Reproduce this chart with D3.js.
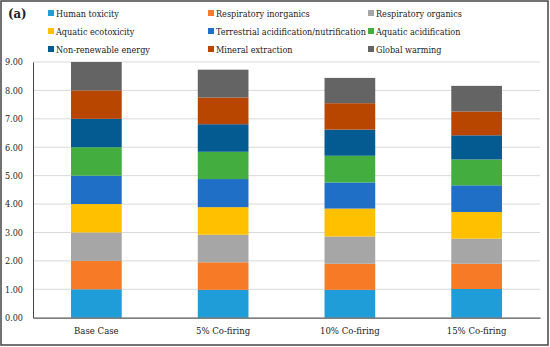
<!DOCTYPE html>
<html>
<head>
<meta charset="utf-8">
<script src="https://cdn.jsdelivr.net/npm/d3@7"></script>
<style>
  body { margin: 0; background: #fff; }
  svg text { fill: #222; }
</style>
</head>
<body>
<div id="chart"></div>
<script>
// Chart data
const scenarios = ["Base Case", "5% Co-firing", "10% Co-firing", "15% Co-firing"];
const categories = [
  "Human toxicity", "Respiratory inorganics", "Respiratory organics",
  "Aquatic ecotoxicity", "Terrestrial acidification/nutrification", "Aquatic acidification",
  "Non-renewable energy", "Mineral extraction", "Global warming"
];
// values per category, in scenario order
const humanToxicity = [1.00, 0.98, 0.98, 1.01];
const respInorganics = [1.00, 0.97, 0.92, 0.89];
const respOrganics = [1.00, 0.97, 0.96, 0.88];
const aquaticEcotox = [1.00, 0.97, 0.98, 0.94];
const terrestrialAcid = [1.00, 0.99, 0.92, 0.94];
const aquaticAcid = [1.00, 0.96, 0.94, 0.91];
const nonRenewable = [1.00, 0.97, 0.92, 0.85];
const mineralExtraction = [1.00, 0.94, 0.93, 0.84];
const globalWarming = [1.00, 0.98, 0.89, 0.90];
const seriesValues = [humanToxicity, respInorganics, respOrganics, aquaticEcotox,
  terrestrialAcid, aquaticAcid, nonRenewable, mineralExtraction, globalWarming];
const yTicks = [0, 1, 2, 3, 4, 5, 6, 7, 8, 9];

const colors = ["#1f9dd9", "#f77b26", "#a6a6a6", "#ffc000", "#1f6fc6",
  "#43ad40", "#045b91", "#b84600", "#646464"];

const fontFam = "DejaVu Serif Condensed, DejaVu Serif";

const svgWidth = 550;
const svgHeight = 347;
const margin = { top: 62, right: 10, bottom: 29, left: 33 };
const chartWidth = 540 - margin.left;
const chartHeight = 317.7 - margin.top;

const svg = d3.select("#chart")
  .append("svg")
  .attr("width", svgWidth)
  .attr("height", svgHeight);

// outer frame
svg.append("rect")
  .attr("x", 1).attr("y", 1)
  .attr("width", 547).attr("height", 344)
  .attr("fill", "none")
  .attr("stroke", "#444")
  .attr("stroke-width", 1.5);

const chartG = svg.append("g")
  .attr("transform", `translate(${margin.left}, ${margin.top})`);

const x = d3.scaleBand()
  .domain(scenarios)
  .range([0, chartWidth])
  .paddingInner(0.6)
  .paddingOuter(0.3);

const y = d3.scaleLinear()
  .domain([0, 9])
  .range([chartHeight, 0]);

// gridlines
chartG.append("g")
  .selectAll("line")
  .data(yTicks.slice(1))
  .enter()
  .append("line")
  .attr("x1", 0).attr("x2", chartWidth)
  .attr("y1", d => y(d)).attr("y2", d => y(d))
  .attr("stroke", "#d9d9d9")
  .attr("stroke-width", 1);

// stacked data
const rows = scenarios.map((s, i) => {
  const row = { scenario: s };
  categories.forEach((c, j) => { row[c] = seriesValues[j][i]; });
  return row;
});
const stacked = d3.stack().keys(categories)(rows);

chartG.append("g")
  .selectAll("g")
  .data(stacked)
  .enter()
  .append("g")
  .attr("fill", (d, i) => colors[i])
  .selectAll("rect")
  .data(d => d)
  .enter()
  .append("rect")
  .attr("x", d => x(d.data.scenario))
  .attr("width", x.bandwidth())
  .attr("y", d => y(d[1]))
  .attr("height", d => y(d[0]) - y(d[1]));

// axes
const yAxis = d3.axisLeft(y).tickValues(yTicks).tickFormat(d3.format(".2f")).tickSize(0).tickPadding(4);
const yAxisG = chartG.append("g").call(yAxis);
yAxisG.select(".domain").attr("stroke", "#444");
yAxisG.selectAll("text")
  .attr("text-anchor", "start")
  .attr("x", 5 - margin.left)
  .attr("font-family", fontFam)
  .attr("font-size", 9)
  .attr("fill", "#222");

const xAxis = d3.axisBottom(x).tickSize(0).tickPadding(10);
const xAxisG = chartG.append("g")
  .attr("transform", `translate(0, ${chartHeight})`)
  .call(xAxis);
xAxisG.select(".domain").attr("stroke", "#555").attr("stroke-width", 1.2);
xAxisG.selectAll("text")
  .attr("font-family", fontFam)
  .attr("font-size", 9.5)
  .attr("fill", "#222");

// panel label
svg.append("text")
  .attr("x", 8).attr("y", 18)
  .attr("font-family", fontFam)
  .attr("font-size", 13)
  .attr("font-weight", "bold")
  .text("(a)");

// legend, 3 columns
const legendX = [48, 208, 368];
const legendY = [13, 31, 49];
const legend = svg.append("g")
  .selectAll("g")
  .data(categories)
  .enter()
  .append("g")
  .attr("transform", (d, i) => `translate(${legendX[i % 3]}, ${legendY[Math.floor(i / 3)]})`);

legend.append("rect")
  .attr("x", 0).attr("y", -3)
  .attr("width", 6).attr("height", 6)
  .attr("fill", (d, i) => colors[i]);

legend.append("text")
  .attr("x", 8).attr("y", 3.5)
  .attr("font-family", fontFam)
  .attr("font-size", 9)
  .text(d => d);
</script>
</body>
</html>
